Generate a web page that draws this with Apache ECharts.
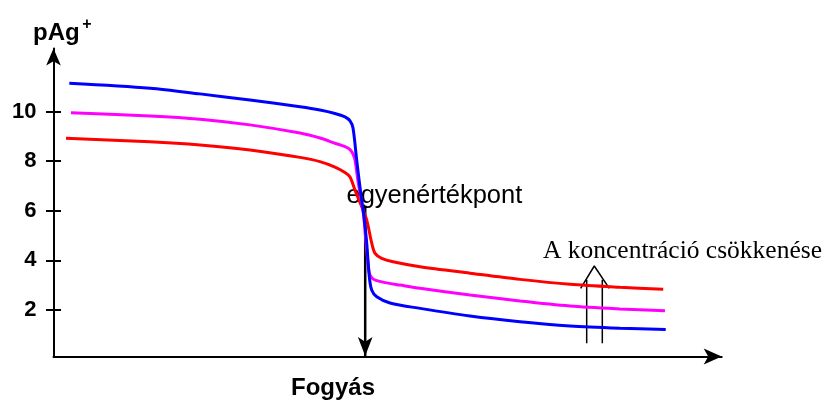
<!DOCTYPE html>
<html>
<head>
<meta charset="utf-8">
<script src="https://cdn.jsdelivr.net/npm/echarts@6/dist/echarts.min.js"></script>
<style>html,body{margin:0;padding:0;background:#fff}#c{width:825px;height:401px}</style>
</head>
<body>
<div id="c"></div>
<script>
// Tick labels on the pAg+ axis
const yTickValues = [2, 4, 6, 8, 10];

// Titration curves: [Fogyás, pAg+]
const blueCurve = [
  [2.54, 11.14], [15.51, 10.94], [23.55, 10.71], [31.58, 10.46], [39.62, 10.19],
  [42.83, 10.06], [45.24, 9.92], [46.85, 9.78], [47.66, 9.62], [48.14, 9.33],
  [48.73, 8.04], [49.38, 6.71], [49.91, 5.76], [50.34, 4.70], [50.76, 3.34],
  [51.14, 2.80], [51.95, 2.53], [54.09, 2.28], [58.91, 2.06], [66.94, 1.75],
  [74.98, 1.52], [83.02, 1.35], [91.05, 1.26], [98.4, 1.21]
];
const magentaCurve = [
  [2.81, 9.95], [15.51, 9.82], [23.55, 9.69], [31.58, 9.46], [39.62, 9.13],
  [42.83, 8.93], [45.24, 8.72], [46.85, 8.58], [47.66, 8.46], [48.14, 8.28],
  [48.46, 8.04], [48.99, 7.12], [49.79, 5.91], [50.34, 4.42], [50.76, 3.49],
  [51.19, 3.29], [51.84, 3.19], [53.29, 3.10], [55.69, 3.00], [58.91, 2.87],
  [66.94, 2.60], [74.98, 2.36], [83.02, 2.16], [91.05, 2.04], [98.28, 1.96]
];
const redCurve = [
  [2.01, 8.92], [15.51, 8.78], [23.55, 8.65], [31.58, 8.45], [39.62, 8.15],
  [42.83, 7.98], [45.24, 7.76], [46.85, 7.54], [47.66, 7.36], [48.46, 6.83],
  [49.54, 6.16], [50.34, 5.63], [51.14, 4.70], [51.68, 4.28], [52.75, 4.08],
  [54.57, 3.94], [58.91, 3.74], [66.94, 3.48], [74.98, 3.23], [83.02, 3.03],
  [91.05, 2.91], [98.0, 2.83]
];

// Annotation arrows (data units)
const equivArrow = [[50.1, 6.2], [50.1, 0.14]];
const concShaftLeft = [[85.70, 0.65], [85.70, 3.21]];
const concShaftRight = [[88.21, 0.65], [88.21, 3.21]];
const concHead = [[84.73, 2.87], [86.92, 3.77], [89.33, 2.87]];

const chart = echarts.init(document.getElementById('c'), null, {renderer: 'canvas'});

function curve(data, color) {
  return {
    type: 'line', data: data, showSymbol: false, symbol: 'none',
    smooth: 0.3,
    lineStyle: {color: color, width: 3}, z: 3, silent: true
  };
}
function plain(data) {
  return {
    type: 'line', data: data, showSymbol: false, symbol: 'none',
    lineStyle: {color: '#000', width: 1.5}, z: 2, silent: true
  };
}

const gridBox = {left: 53.5, right: 103.3, top: 48.5, bottom: 44.5};
const Y_MIN = 0.12, Y_MAX = 12.54, X_MAX = 107.4;

chart.setOption({
  animation: false,
  grid: [Object.assign({}, gridBox), Object.assign({}, gridBox)],
  xAxis: [{
    type: 'value', min: 0, max: X_MAX, gridIndex: 0,
    axisLine: {show: true, onZero: false, symbol: ['none', 'arrow'], symbolSize: [12, 18],
      lineStyle: {color: '#000', width: 2}},
    axisTick: {show: false}, axisLabel: {show: false}, splitLine: {show: false}
  }, {
    type: 'value', min: 0, max: X_MAX, gridIndex: 1, show: false
  }],
  yAxis: [{
    type: 'value', min: Y_MIN, max: Y_MAX, position: 'left', gridIndex: 0,
    axisLine: {show: true, onZero: false, symbol: ['none', 'arrow'], symbolSize: [11, 17],
      lineStyle: {color: '#000', width: 2}},
    axisTick: {show: true, length: 7.5, customValues: yTickValues, lineStyle: {color: '#000', width: 2}},
    axisLabel: {show: true, customValues: yTickValues, margin: 17, color: '#000',
      fontFamily: 'Liberation Sans', fontWeight: 'bold', fontSize: 22},
    splitLine: {show: false}
  }, {
    type: 'value', min: Y_MIN, max: Y_MAX, position: 'left', gridIndex: 1,
    axisLine: {show: false, onZero: false},
    axisTick: {show: true, inside: true, length: 7.5, customValues: yTickValues, lineStyle: {color: '#000', width: 2}},
    axisLabel: {show: false}, splitLine: {show: false}
  }],
  graphic: [
    {type: 'text', left: 33, top: 21, z: 1,
      style: {text: 'pAg', font: 'bold 24px "Liberation Sans"', fill: '#000'}},
    {type: 'text', x: 87, y: 25, z: 1,
      style: {text: '+', font: 'bold 16px "Liberation Sans"', fill: '#000', align: 'center', verticalAlign: 'middle'}},
    {type: 'text', x: 333, y: 388, z: 1,
      style: {text: 'Fogyás', font: 'bold 24px "Liberation Sans"', fill: '#000', align: 'center', verticalAlign: 'middle'}},
    {type: 'text', x: 346.5, y: 196, z: 1,
      style: {text: 'egyenértékpont', font: '25.5px "Liberation Sans"', fill: '#000', align: 'left', verticalAlign: 'middle'}},
    {type: 'text', x: 543, y: 251.5, z: 1,
      style: {text: 'A koncentráció csökkenése', font: '25.5px "Liberation Serif"', fill: '#000', align: 'left', verticalAlign: 'middle'}}
  ],
  series: [
    {
      type: 'line', xAxisIndex: 0, yAxisIndex: 0, silent: true, z: 2,
      data: [
        {value: equivArrow[0], symbol: 'none'},
        {value: equivArrow[1], symbol: 'arrow', symbolSize: [11, 19], symbolRotate: 180,
          itemStyle: {color: '#000', borderWidth: 0}}
      ],
      showSymbol: true, showAllSymbol: true,
      lineStyle: {color: '#000', width: 2.5}, itemStyle: {color: '#000'}
    },
    plain(concShaftLeft), plain(concShaftRight), plain(concHead),
    curve(redCurve, '#ff0000'),
    curve(magentaCurve, '#ff00ff'),
    curve(blueCurve, '#0000ff')
  ]
});
</script>
</body>
</html>
